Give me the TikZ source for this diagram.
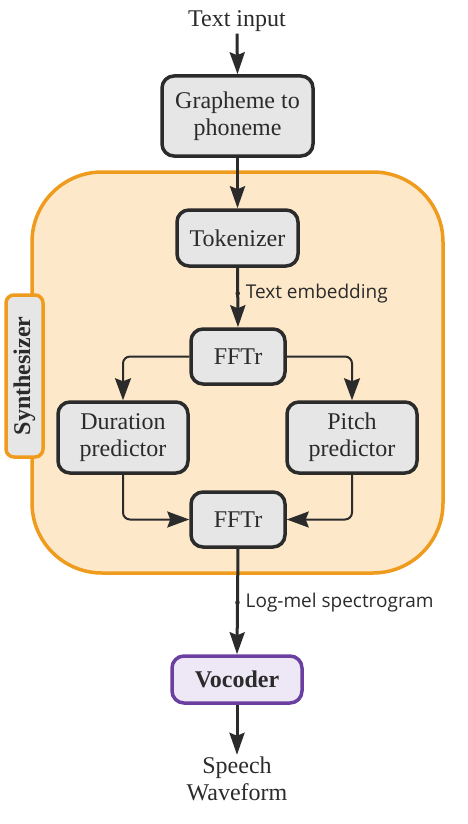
\documentclass[tikz,border=0pt]{standalone}
\usepackage{fontspec}
\setmainfont{Liberation Serif}
\newfontfamily\labelfont{Open Sans}
\usetikzlibrary{arrows.meta}
\definecolor{ink}{HTML}{2B2B2B}
\definecolor{boxfill}{HTML}{E6E6E6}
\definecolor{synfill}{HTML}{FDE8C9}
\definecolor{synline}{HTML}{EE9B1E}
\definecolor{vocline}{HTML}{6B3FA0}
\definecolor{vocfill}{HTML}{EDE7F6}
\tikzset{
  blk/.style={draw=ink, fill=boxfill, line width=3.5pt, rounded corners=12pt,
    inner sep=0pt, align=center, text=ink, font=\fontsize{24}{27}\selectfont},
  mainarrow/.style={draw=ink, line width=3pt, -{Stealth[length=22pt,width=15pt,inset=3pt]}},
  subarrow/.style={draw=ink, line width=2pt, rounded corners=7pt, -{Stealth[length=22pt,width=16pt,inset=3pt]}},
  plain/.style={text=ink, align=center, inner sep=2pt, font=\fontsize{24}{27}\selectfont},
  lbl/.style={text=ink, anchor=west, inner sep=0pt, font=\labelfont\fontsize{19}{22}\selectfont},
  lbldot/.style={circle, fill=ink, inner sep=0pt, minimum size=4.5pt}
}
\begin{document}
\begin{tikzpicture}[x=1pt,y=-1pt]
\useasboundingbox (0,0) rectangle (468,824);
% synthesizer container
\draw[synline, fill=synfill, line width=3.5pt, rounded corners=70pt] (32,172) rectangle (443,573);
\node[draw=synline, fill=boxfill, line width=3.5pt, rounded corners=8pt, minimum width=37pt, minimum height=162pt, inner sep=0pt] (tab) at (24.5,376) {};
\node[rotate=90, text=ink, font=\bfseries\fontsize{24}{27}\selectfont, inner sep=0pt] (tabtext) at (tab.center) {Synthesizer};
% nodes
\node[plain] (in) at (237,21) {Text input};
\node[blk, minimum width=151pt, minimum height=80pt] (g2p) at (237.5,116) {Grapheme to\\phoneme};
\node[blk, minimum width=121pt, minimum height=56pt] (tok) at (237.5,238) {Tokenizer};
\node[blk, minimum width=94pt, minimum height=55pt] (f1) at (238,356.5) {FFTr};
\node[blk, minimum width=130pt, minimum height=71pt] (dur) at (123,437.5) {Duration\\predictor};
\node[blk, minimum width=130pt, minimum height=71pt] (pit) at (352,437.5) {Pitch\\predictor};
\node[blk, minimum width=94pt, minimum height=55pt] (f2) at (238,519.5) {FFTr};
\node[blk, draw=vocline, fill=vocfill, minimum width=130pt, minimum height=47pt, font=\bfseries\fontsize{24}{27}\selectfont] (voc) at (237,679.5) {Vocoder};
\node[plain] (out) at (237,779) {Speech\\Waveform};
% connectors
\draw[mainarrow] (in.south) -- (g2p.north);
\draw[mainarrow] (g2p.south) -- (tok.north);
\draw[mainarrow] (tok.south) -- (f1.north)
  node[pos=0.43, lbldot] (d1) {};
\node[lbl] (l1) at ([xshift=8pt]d1.center) {Text embedding};
\draw[mainarrow] (f2.south) -- (voc.north)
  node[pos=0.51, lbldot] (d2) {};
\node[lbl] (l2) at ([xshift=8pt]d2.center) {Log-mel spectrogram};
\draw[mainarrow] (voc.south) -- (out.north);
\draw[subarrow] (f1.west) -| (dur.north);
\draw[subarrow] (f1.east) -| (pit.north);
\draw[subarrow] (dur.south) |- (f2.west);
\draw[subarrow] (pit.south) |- (f2.east);
\end{tikzpicture}
\end{document}
